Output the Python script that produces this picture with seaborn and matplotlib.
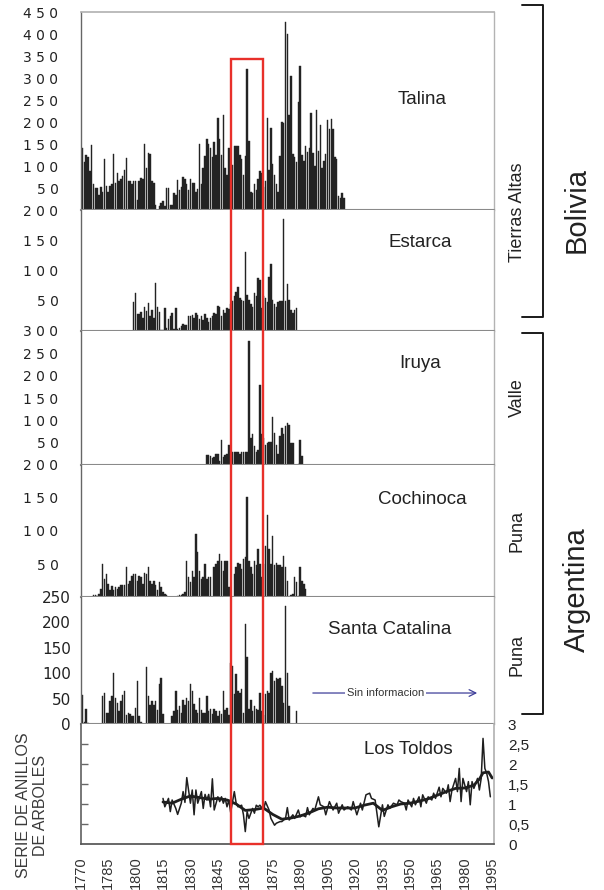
import matplotlib
matplotlib.use("Agg")
import matplotlib.pyplot as plt
from matplotlib.patches import Rectangle
from matplotlib.lines import Line2D
import pandas as pd
import seaborn as sns

# ---------------- data ----------------
talina_start = 1770
talina_vals = [100, 140, 108, 125, 120, 88, 147, 60, 50, 50, 35, 52, 42, 117, 55, 42, 55, 60, 127, 62,
               85, 67, 70, 78, 92, 118, 65, 65, 58, 65, 65, 22, 65, 72, 70, 150, 96, 130, 128, 65,
               62, 12, 0,
               10, 15, 20, 10, 50, 50, 12, 12, 38, 35, 68, 45, 52, 75, 70, 58, 45, 70, 62, 62,
               42, 48, 150, 60, 95, 122, 162, 150, 142, 120, 155, 125, 208, 162, 125, 215, 95, 80, 140, 105,
               102, 145, 145, 145, 125, 115, 80, 122, 320, 157, 40, 38, 58, 45, 70, 88, 85, 52, 65, 210,
               90, 186, 105, 80, 60, 40, 122, 200, 198, 428, 400, 216, 305, 128, 120, 110, 245, 328, 125, 112,
               145, 132, 140, 220, 130, 100, 228, 135, 193, 95, 112, 128, 205, 185, 206, 185, 120, 115, 32, 28,
               38, 27]

estarca_start = 1799
estarca_vals = [48, 63, 28, 28, 32, 22, 40, 33, 47, 25, 35, 22, 80, 40, 32, 2, 2, 38, 5, 20,
                25, 30, 3, 38, 3, 5, 8, 12, 10, 10, 25, 25, 26, 22, 30, 27, 20, 25, 18, 28,
                22, 15, 22, 25, 30, 28, 42, 40, 25, 35, 30, 38, 37, 45, 50, 58, 65, 72, 55, 52,
                50, 130, 60, 52, 45, 40, 62, 58, 88, 85, 38, 58, 55, 48, 90, 110, 52, 45, 40, 48,
                50, 50, 185, 50, 78, 52, 35, 30, 35, 38]

iruya_start = 1839
iruya_vals = [22, 22, 20, 15, 18, 25, 25, 10, 55, 18, 22, 25, 45, 20, 28, 28, 28, 28, 25, 28,
              28, 30, 30, 278, 60, 70, 42, 30, 33, 178, 70, 60, 45, 50, 52, 52, 108, 72, 45, 25,
              65, 82, 70, 88, 95, 90, 50, 50, 0, 0, 2, 55, 20]

cochinoca_start = 1777
cochinoca_vals = [3, 3, 2, 5, 12, 50, 28, 35, 20, 10, 17, 10, 15, 12, 15, 18, 18, 18, 45, 20,
                  25, 32, 35, 35, 25, 32, 30, 20, 37, 35, 45, 25, 20, 25, 18, 10, 22, 15, 8, 5,
                  3, 0, 0, 0, 0, 0,
                  2, 3, 3, 5, 8, 55, 30, 22, 40, 30, 95, 68, 40, 28, 30, 50, 28, 30, 30,
                  0,
                  45, 50, 55, 65, 55, 40, 55, 55, 15,
                  0, 0,
                  35, 45, 52, 50, 42, 58, 60, 152, 55, 45, 35, 55, 48, 72, 50, 30, 50, 78, 125, 72,
                  50, 92, 48, 52, 48, 48, 45, 62, 45, 25, 0, 3, 5, 30, 22, 2, 45, 25, 20, 12]

catalina_start = 1770
catalina_vals = [108, 57, 3, 30, 2,
                 0, 0, 0, 0, 0, 0, 0,
                 55, 62, 22, 22, 45, 55, 100, 52, 42, 25, 45, 57, 65, 18, 22, 20, 16, 15, 32, 85, 15, 3,
                 0, 0,
                 112, 55, 38, 45, 38, 45, 27, 78, 90, 20,
                 0, 0, 0, 0,
                 15, 25, 65, 28, 35, 22, 48, 38, 52, 45, 78, 65, 40, 28, 22, 52, 28, 22, 22, 55,
                 25, 30, 20, 30, 25, 15, 25, 20, 65, 28, 32, 18, 120, 115, 60, 98, 65, 62, 68,
                 22, 196, 132, 30, 47, 25, 35, 30, 28, 62, 25, 18, 60, 65, 62, 100, 105, 85, 90, 88,
                 90, 75, 42, 232, 100, 35, 0, 0, 0, 25]

toldos_years = [1815, 1816, 1818, 1819, 1820, 1822, 1823, 1825, 1826, 1827, 1828, 1830, 1831, 1832, 1833,
                1834, 1836, 1837, 1838, 1839, 1840, 1841, 1842, 1843, 1845, 1846, 1847, 1848, 1849, 1850,
                1851, 1852, 1854, 1855, 1856, 1858, 1859, 1860, 1861, 1862, 1864, 1865, 1866, 1867, 1868,
                1870, 1871, 1873, 1874, 1876, 1877, 1879, 1880, 1882, 1883, 1884, 1886, 1887, 1889, 1890,
                1891, 1893, 1894, 1895, 1897, 1898, 1899, 1900, 1901, 1903, 1904, 1906, 1908, 1910, 1911,
                1913, 1914, 1916, 1918, 1919, 1921, 1923, 1924, 1926, 1928, 1929, 1931, 1932, 1933, 1935,
                1936, 1938, 1939, 1941, 1943, 1944, 1945, 1947, 1948, 1949, 1951, 1952, 1953, 1955, 1956,
                1957, 1959, 1960, 1962, 1963, 1964, 1966, 1967, 1968, 1970, 1971, 1972, 1973, 1975, 1976,
                1977, 1978, 1979, 1981, 1982, 1983, 1984, 1985, 1987, 1988, 1989, 1990, 1991, 1992, 1993,
                1994]
toldos_index = [1.14, 0.93, 1.14, 0.81, 1.10, 0.89, 0.74, 1.02, 1.31, 1.04, 1.66, 1.02, 1.35, 0.73, 1.35,
                1.02, 1.31, 0.89, 1.24, 1.10, 1.24, 0.93, 1.63, 0.85, 1.18, 1.06, 1.18, 1.02, 1.14, 0.93,
                1.10, 0.79, 1.31, 1.02, 0.93, 0.97, 0.73, 0.31, 0.81, 0.64, 0.89, 0.77, 0.97, 0.93, 0.97,
                0.85, 1.06, 0.85, 0.64, 0.47, 0.52, 0.56, 0.56, 0.64, 0.91, 0.60, 0.73, 0.64, 0.85, 0.68,
                0.73, 0.68, 0.91, 0.73, 0.89, 0.85, 1.02, 1.18, 0.98, 0.93, 0.73, 1.06, 0.85, 1.02, 0.77,
                0.98, 0.85, 0.93, 0.85, 1.06, 0.73, 1.02, 0.85, 1.23, 1.27, 1.14, 1.10, 0.77, 0.43, 0.98,
                0.69, 0.98, 0.89, 1.02, 0.98, 1.10, 1.06, 1.02, 0.85, 1.10, 0.93, 1.14, 0.98, 1.18, 0.93,
                1.23, 1.02, 1.18, 1.10, 1.27, 1.14, 1.42, 1.18, 1.39, 1.27, 1.48, 1.06, 1.35, 1.64, 1.31,
                1.89, 1.06, 1.64, 1.31, 1.56, 0.98, 1.56, 1.39, 1.64, 1.35, 1.64, 2.64, 1.89, 1.77, 1.56,
                1.18]
smooth_years = [1815, 1820, 1825, 1830, 1835, 1840, 1845, 1850, 1855, 1860, 1865, 1870, 1875, 1880, 1885,
                1890, 1895, 1900, 1905, 1910, 1915, 1920, 1925, 1930, 1935, 1940, 1945, 1950, 1955, 1960,
                1965, 1970, 1975, 1980, 1985, 1988, 1990, 1993, 1995]
smooth_index = [1.05, 1.02, 1.12, 1.20, 1.16, 1.12, 1.14, 1.10, 1.00, 0.84, 0.86, 0.90, 0.74, 0.62, 0.65,
                0.70, 0.78, 0.88, 0.92, 0.90, 0.90, 0.90, 0.97, 1.02, 0.84, 0.93, 1.00, 1.02, 1.07, 1.13,
                1.22, 1.31, 1.39, 1.40, 1.47, 1.62, 1.78, 1.80, 1.65]

panel_names = ["Talina", "Estarca", "Iruya", "Cochinoca", "Santa Catalina"]
panel_starts = [talina_start, estarca_start, iruya_start, cochinoca_start, catalina_start]
panel_values = [talina_vals, estarca_vals, iruya_vals, cochinoca_vals, catalina_vals]
panel_ymax = [450, 200, 300, 200, 250]
x_tick_years = list(range(1770, 1996, 15))
right_ticks = [0, 0.5, 1, 1.5, 2, 2.5, 3]
right_labels = ["0", "0,5", "1", "1,5", "2", "2,5", "3"]
highlight_years = (1852.2, 1869.5)
highlight_top = 343
region_labels = ["Tierras Altas", "Valle", "Puna", "Puna"]
country_labels = ["Bolivia", "Argentina"]

# ---------------- figure ----------------
sns.set_theme(style="white")
plt.rcParams["font.family"] = ["Liberation Sans", "DejaVu Sans"]

W, H = 604, 890
fig = plt.figure(figsize=(W / 100, H / 100), dpi=100)
gs = fig.add_gridspec(6, 1, height_ratios=[198, 121, 134, 132, 127, 120], hspace=0,
                      left=80.7 / W, right=494 / W, bottom=1 - 844 / H, top=1 - 12 / H)
axes = [fig.add_subplot(gs[i]) for i in range(6)]

XMIN, XMAX = 1770, 1996
BAR = "#232323"
DIV = "#8a8a8a"
FRAME = "#b3b3b3"
TXT = "#222222"

name_pos = [(0.826, 0.556), (0.821, 0.735), (0.821, 0.754), (0.826, 0.735), (0.748, 0.748)]

for i, ax in enumerate(axes[:5]):
    vals = panel_values[i]
    years = list(range(panel_starts[i], panel_starts[i] + len(vals)))
    df = pd.DataFrame({"year": years, "value": vals})
    sns.barplot(data=df, x="year", y="value", native_scale=True, color=BAR, saturation=1,
                width=0.8, linewidth=0.3, edgecolor=BAR, errorbar=None, ax=ax)
    ax.set_xlim(XMIN, XMAX)
    ax.set_ylim(0, panel_ymax[i])
    ax.set_xlabel("")
    ax.set_ylabel("")
    ax.set_xticks([])
    if i < 4:
        ticks = list(range(50, panel_ymax[i] + 1, 50))
        ax.set_yticks(ticks)
        ax.set_yticklabels([" ".join(str(t)) for t in ticks], fontfamily="DejaVu Sans",
                           fontsize=10, color=TXT)
        ax.tick_params(axis="y", which="major", length=0, pad=16)
    else:
        ticks = list(range(0, panel_ymax[i] + 1, 50))
        ax.set_yticks(ticks)
        ax.set_yticklabels([str(t) for t in ticks], fontfamily="DejaVu Sans", fontsize=11, color=TXT)
        ax.tick_params(axis="y", which="major", length=0, pad=7)
    ax.set_yticks([0], minor=True)
    ax.tick_params(axis="y", which="minor", length=6.3, width=1.5, color=DIV, direction="out")
    for s in ["top", "right", "left", "bottom"]:
        ax.spines[s].set_visible(True)
    ax.spines["top"].set_visible(i == 0)
    ax.spines["top"].set_color(FRAME)
    ax.spines["right"].set_color(FRAME)
    ax.spines["right"].set_linewidth(1.0)
    ax.spines["left"].set_color("#666666")
    ax.spines["left"].set_linewidth(1.0)
    ax.spines["bottom"].set_color(DIV)
    ax.spines["bottom"].set_linewidth(1.5)
    ax.text(name_pos[i][0], name_pos[i][1], panel_names[i], transform=ax.transAxes,
            ha="center", va="center", fontsize=13.5, color=TXT)

# Sin informacion note
axc = axes[4]
axc.annotate("", xy=(0.966, 0.244), xytext=(0.555, 0.244), xycoords="axes fraction",
             arrowprops=dict(arrowstyle="->", color="#3f3f9a", lw=0.9))
axc.text(0.737, 0.244, "Sin informacion", transform=axc.transAxes, ha="center", va="center",
         fontsize=8, color="#333333",
         bbox=dict(boxstyle="square,pad=0.15", fc="white", ec="none"))

# Los Toldos
axt = axes[5]
sns.lineplot(x=toldos_years, y=toldos_index, ax=axt, color="#1e1e1e", lw=1.1)
sns.lineplot(x=smooth_years, y=smooth_index, ax=axt, color="#1e1e1e", lw=2.0)
axt.set_xlim(XMIN, XMAX)
axt.set_ylim(0, 3)
axt.set_xlabel("")
axt.set_ylabel("")
axt.set_yticks([0.5, 1, 1.5, 2, 2.5])
axt.set_yticklabels([])
axt.tick_params(axis="y", which="major", length=5, width=1.0, color="#666666", direction="in")
axt.set_xticks(x_tick_years)
axt.set_xticklabels([str(y) for y in x_tick_years], rotation=90, fontsize=10.5, color="#333333")
axt.set_xticks(list(range(1770, 1996)), minor=True)
axt.tick_params(axis="x", which="both", length=4, width=0.7, color="#888888", direction="out", pad=5)
for s in ["top", "right", "left", "bottom"]:
    axt.spines[s].set_visible(True)
axt.spines["top"].set_visible(False)
axt.spines["right"].set_color(FRAME)
axt.spines["left"].set_color("#666666")
axt.spines["bottom"].set_color("#555555")
axt.text(0.792, 0.79, "Los Toldos", transform=axt.transAxes, ha="center", va="center",
         fontsize=13.5, color=TXT)

axr = axt.twinx()
axr.set_ylim(0, 3)
axr.set_yticks(right_ticks)
axr.set_yticklabels(right_labels, fontsize=11, color=TXT)
axr.tick_params(axis="y", length=0, pad=10)
for s in axr.spines.values():
    s.set_visible(False)
axr.grid(False)

# Red highlight box spanning all panels
inv = fig.transFigure.inverted()
bx0, by0 = inv.transform(axt.transData.transform((highlight_years[0], 0)))
bx1, by1 = inv.transform(axes[0].transData.transform((highlight_years[1], highlight_top)))
fig.add_artist(Rectangle((bx0, by0), bx1 - bx0, by1 - by0, transform=fig.transFigure,
                         fill=False, edgecolor="#e8302a", lw=1.7, zorder=20))

# y label
fig.text(32 / W, 1 - 805 / H, "SERIE DE ANILLOS\nDE ARBOLES", rotation=90, ha="center", va="center",
         fontsize=11.5, color="#3a3a3a", multialignment="center", linespacing=1.2)

# right side annotations
def fx(px): return px / W
def fy(py): return 1 - py / H

narrow = ["Liberation Sans Narrow", "Liberation Sans", "DejaVu Sans"]
for lab, yc in zip(region_labels, [212, 398, 531, 655]):
    fig.text(fx(517), fy(yc), lab, rotation=90, ha="center", va="center", fontsize=13,
             color=TXT, family=narrow)
for lab, yc in zip(country_labels, [210, 590]):
    fig.text(fx(577), fy(yc), lab, rotation=90, ha="center", va="center", fontsize=21,
             color=TXT, family=narrow)

for (ytop, ybot) in [(5, 317), (333, 714)]:
    fig.add_artist(Line2D([fx(522), fx(543), fx(543), fx(522)], [fy(ytop), fy(ytop), fy(ybot), fy(ybot)],
                          transform=fig.transFigure, color="#1a1a1a", lw=1.4))

fig.savefig("out.png", dpi=100)
